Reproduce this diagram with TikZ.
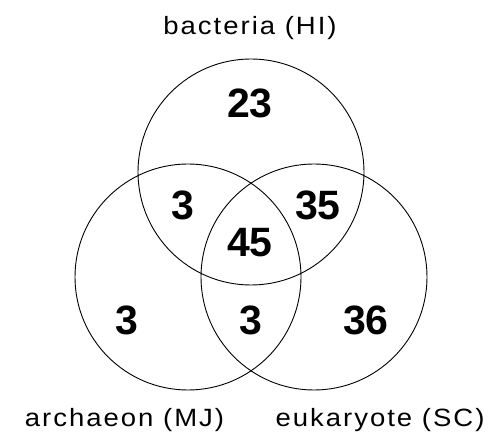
\documentclass[tikz,border=0pt]{standalone}
\usepackage{fontspec}
\setmainfont{Liberation Sans}
\newfontfamily\labfont[FakeStretch=1.1,LetterSpace=8]{Liberation Sans}
\begin{document}
\begin{tikzpicture}[x=1pt,y=-1pt,
  setc/.style={draw=black,line width=0.9pt},
  num/.style={font=\fontsize{41}{41}\selectfont\bfseries,inner sep=0pt,anchor=center},
  lab/.style={font=\labfont\fontsize{25}{25}\selectfont,inner sep=0pt,anchor=base}]
\useasboundingbox (0,0) rectangle (491,433);
\fill[white] (0,0) rectangle (491,433);
\draw[setc] (251,172) circle[radius=113];
\draw[setc] (188,277) circle[radius=113];
\draw[setc] (314,277) circle[radius=113];
\node[lab] (lb) at (250,35) {bacteria (HI)};
\node[lab] (la) at (124.5,427) {archaeon (MJ)};
\node[lab] (le) at (380,427) {eukaryote (SC)};
\node[num] (n23) at (250,103) {23};
\node[num] (n3a) at (183,205) {3};
\node[num] (n35) at (318,205) {35};
\node[num] (n45) at (250,243) {45};
\node[num] (n3b) at (127,320) {3};
\node[num] (n3c) at (251,320) {3};
\node[num] (n36) at (366,320) {36};
\end{tikzpicture}
\end{document}
